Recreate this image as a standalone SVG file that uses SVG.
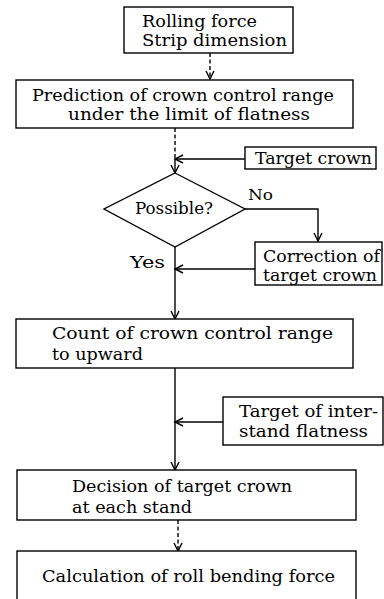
<svg xmlns="http://www.w3.org/2000/svg" width="384" height="599" viewBox="0 0 384 599">
<style>
.box{fill:#fff;stroke:#000;stroke-width:1.4}
.t{font-family:"DejaVu Serif","Liberation Serif",serif;font-size:16.5px;fill:#000}
.s{font-size:15px}
.c{fill:none;stroke:#000;stroke-width:1.4}
.d{stroke-dasharray:4 2.5}
</style>
<defs>
<marker id="ah" markerUnits="userSpaceOnUse" markerWidth="12" markerHeight="12" viewBox="0 0 12 12" refX="10" refY="6" orient="auto">
<path d="M2,2 L10,6 L2,10" fill="none" stroke="#000" stroke-width="1.4"/>
</marker>
</defs>
<rect width="384" height="599" fill="#fff"/>
<g id="connectors">
<path class="c d" d="M210,53 V79" marker-end="url(#ah)"/>
<path class="c d" d="M175,128 V159"/>
<path class="c" d="M175,159 V173" marker-end="url(#ah)"/>
<path class="c" d="M245,159 H175" marker-end="url(#ah)"/>
<path class="c" d="M245,209 H318 V241" marker-end="url(#ah)"/>
<path class="c" d="M255,269 H175" marker-end="url(#ah)"/>
<path class="c" d="M175,247 V319" marker-end="url(#ah)"/>
<path class="c" d="M175,368 V470" marker-end="url(#ah)"/>
<path class="c" d="M223,422 H175" marker-end="url(#ah)"/>
<path class="c d" d="M178,520 V551" marker-end="url(#ah)"/>
</g>
<g id="n1">
<rect class="box" x="124" y="7" width="169" height="46"/>
<text class="t" x="142" y="27" textLength="115" lengthAdjust="spacingAndGlyphs">Rolling force</text>
<text class="t" x="142" y="46" textLength="145" lengthAdjust="spacingAndGlyphs">Strip dimension</text>
</g>
<g id="n2">
<rect class="box" x="16" y="80" width="337" height="48"/>
<text class="t" x="32" y="101" textLength="302" lengthAdjust="spacingAndGlyphs">Prediction of crown control range</text>
<text class="t" x="68" y="120" textLength="242" lengthAdjust="spacingAndGlyphs">under the limit of flatness</text>
</g>
<g id="n3">
<rect class="box" x="245" y="147" width="131" height="22"/>
<text class="t" x="255" y="164" textLength="117" lengthAdjust="spacingAndGlyphs">Target crown</text>
</g>
<g id="n4">
<polygon class="box" points="175,173 245,209 175,247 104,209"/>
<text class="t" x="135" y="214" textLength="78" lengthAdjust="spacingAndGlyphs">Possible?</text>
<text class="t s" x="248" y="200" textLength="25" lengthAdjust="spacingAndGlyphs">No</text>
<text class="t" x="130" y="268" textLength="35" lengthAdjust="spacingAndGlyphs">Yes</text>
</g>
<g id="n5">
<rect class="box" x="255" y="242" width="127" height="43"/>
<text class="t" x="263" y="262" textLength="117" lengthAdjust="spacingAndGlyphs">Correction of</text>
<text class="t" x="263" y="281" textLength="114" lengthAdjust="spacingAndGlyphs">target crown</text>
</g>
<g id="n6">
<rect class="box" x="16" y="319" width="337" height="49"/>
<text class="t" x="52" y="339" textLength="281" lengthAdjust="spacingAndGlyphs">Count of crown control range</text>
<text class="t" x="52" y="360" textLength="91" lengthAdjust="spacingAndGlyphs">to upward</text>
</g>
<g id="n7">
<rect class="box" x="223" y="397" width="160" height="48"/>
<text class="t" x="239" y="417" textLength="139" lengthAdjust="spacingAndGlyphs">Target of inter-</text>
<text class="t" x="239" y="437" textLength="129" lengthAdjust="spacingAndGlyphs">stand flatness</text>
</g>
<g id="n8">
<rect class="box" x="17" y="470" width="339" height="50"/>
<text class="t" x="72" y="492" textLength="220" lengthAdjust="spacingAndGlyphs">Decision of target crown</text>
<text class="t" x="72" y="513" textLength="120" lengthAdjust="spacingAndGlyphs">at each stand</text>
</g>
<g id="n9">
<rect class="box" x="17" y="551" width="339" height="60"/>
<text class="t" x="42" y="582" textLength="293" lengthAdjust="spacingAndGlyphs">Calculation of roll bending force</text>
</g>
</svg>
